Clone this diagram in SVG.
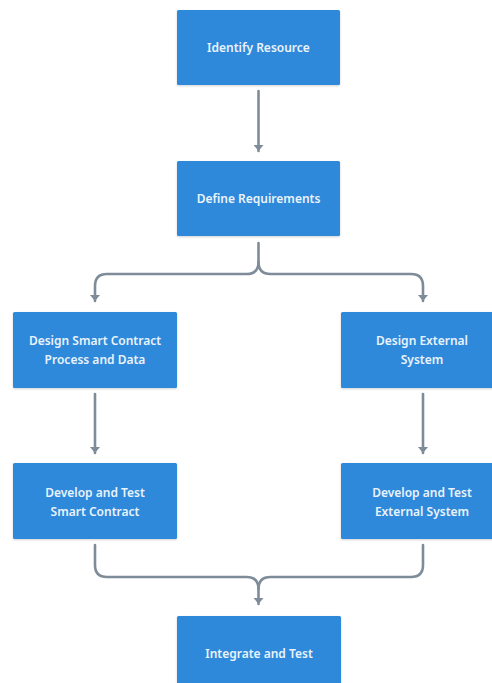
<svg xmlns="http://www.w3.org/2000/svg" width="492" height="683" viewBox="0 0 492 683">
<style>
.box{fill:#2D89DA;}
.lbl{fill:#EAF3FB;font-family:"Noto Sans","Open Sans",sans-serif;font-weight:600;font-size:12px;text-anchor:middle;}
.con{fill:none;stroke:#7E8C9A;stroke-width:2.6;stroke-linecap:round;}
</style>
<defs>
<marker id="ah" markerWidth="10" markerHeight="8" refX="5" refY="7" orient="0" markerUnits="userSpaceOnUse" viewBox="0 0 10 8">
<path d="M0,1 L10,1 L5,7 Z" fill="#7E8C9A"/>
</marker>
<filter id="sh" x="-10%" y="-10%" width="120%" height="130%">
<feDropShadow dx="0" dy="1" stdDeviation="1" flood-color="#000" flood-opacity="0.18"/>
</filter>
</defs>
<rect width="492" height="683" fill="#fff"/>
<g id="connectors">
<path class="con" d="M258.5,91 V151" marker-end="url(#ah)"/>
<path class="con" d="M258.5,243 V262 Q258.5,274 246.5,274 H107 Q95,274 95,286 V301" marker-end="url(#ah)"/>
<path class="con" d="M258.5,262 Q258.5,274 270.5,274 H411 Q423,274 423,286 V301" marker-end="url(#ah)"/>
<path class="con" d="M95,394 V453" marker-end="url(#ah)"/>
<path class="con" d="M423,394 V453" marker-end="url(#ah)"/>
<path class="con" d="M95,545 V565 Q95,577 107,577 H246.5 Q258.5,577 258.5,589 V604" marker-end="url(#ah)"/>
<path class="con" d="M423,545 V565 Q423,577 411,577 H270.5 Q258.5,577 258.5,589"/>
</g>
<g id="identify">
<rect class="box" x="177" y="10" width="163" height="75" rx="1.5" filter="url(#sh)"/>
<text class="lbl" x="258.5" y="52">Identify Resource</text>
</g>
<g id="define">
<rect class="box" x="177" y="161" width="163" height="75" rx="1.5" filter="url(#sh)"/>
<text class="lbl" x="258.5" y="203">Define Requirements</text>
</g>
<g id="design-sc">
<rect class="box" x="13" y="312" width="164" height="76" rx="1.5" filter="url(#sh)"/>
<text class="lbl" x="95" y="345">Design Smart Contract</text>
<text class="lbl" x="95" y="364">Process and Data</text>
</g>
<g id="design-ext">
<rect class="box" x="341" y="312" width="164" height="76" rx="1.5" filter="url(#sh)"/>
<text class="lbl" x="422" y="345">Design External</text>
<text class="lbl" x="422" y="364">System</text>
</g>
<g id="dev-sc">
<rect class="box" x="13" y="463" width="164" height="76" rx="1.5" filter="url(#sh)"/>
<text class="lbl" x="95" y="497">Develop and Test</text>
<text class="lbl" x="95" y="516">Smart Contract</text>
</g>
<g id="dev-ext">
<rect class="box" x="341" y="463" width="164" height="76" rx="1.5" filter="url(#sh)"/>
<text class="lbl" x="422" y="497">Develop and Test</text>
<text class="lbl" x="422" y="516">External System</text>
</g>
<g id="integrate">
<rect class="box" x="177" y="616" width="164" height="76" rx="1.5" filter="url(#sh)"/>
<text class="lbl" x="259" y="658">Integrate and Test</text>
</g>
</svg>
